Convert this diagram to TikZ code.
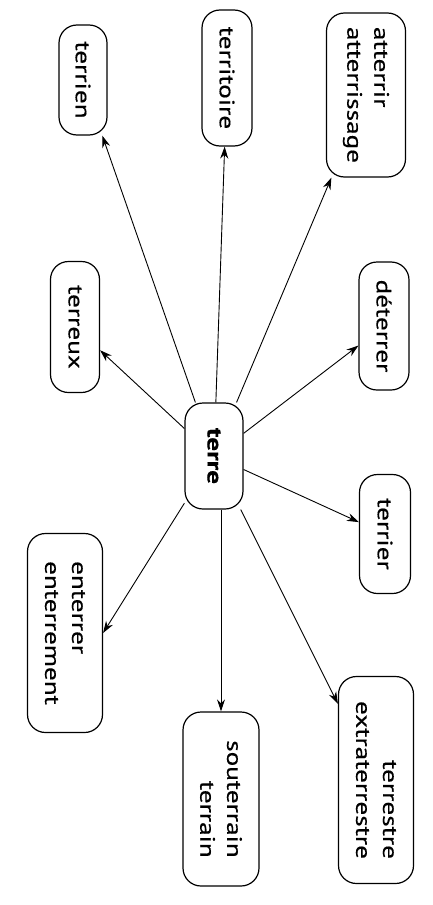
\documentclass[tikz,border=0pt]{standalone}
\usepackage{fontspec}
\setmainfont[FakeStretch=1.3,FakeBold=0.4]{PT Sans}
\usetikzlibrary{arrows.meta}

\tikzset{
  mot/.style={draw, line width=1.2bp, rounded corners=18bp, rotate=-90,
    font=\fontsize{21}{27}\selectfont, inner sep=0pt, minimum height=50bp},
  fleche/.style={-{Stealth[length=12bp,width=8bp]}, line width=0.9bp},
}

\begin{document}
\begin{tikzpicture}[x=1bp,y=1bp]
  \useasboundingbox (0,0) rectangle (432,-905);
  % mot central
  \node[mot, font=\fontsize{21}{27}\selectfont\bfseries, minimum width=106bp, minimum height=58bp] (terre) at (214,-456) {terre};
  % mots derives
  \node[mot, minimum width=110bp, minimum height=48bp] (terrien) at (83,-80) {terrien};
  \node[mot, minimum width=136bp] (territoire) at (227,-78) {territoire};
  \node[mot, align=left, minimum width=164bp, minimum height=79bp] (atterrir) at (366,-95) {atterrir\\atterrissage};
  \node[mot, minimum width=131bp, minimum height=49bp] (terreux) at (75,-327) {terreux};
  \node[mot, minimum width=128bp] (deterrer) at (384,-326) {déterrer};
  \node[mot, minimum width=119bp, minimum height=51bp] (terrier) at (385,-534) {terrier};
  \node[mot, align=left, minimum width=199bp, minimum height=75bp] (enterrer) at (65,-633) {enterrer\\enterrement};
  \node[mot, align=right, minimum width=174bp, minimum height=76bp] (souterrain) at (221,-799) {souterrain\\terrain};
  \node[mot, align=right, minimum width=207bp, minimum height=75bp] (terrestre) at (376,-780) {terrestre\\extraterrestre};
  % fleches
  \draw[fleche] (terre) -- (terrien);
  \draw[fleche] (terre) -- (territoire);
  \draw[fleche] (terre) -- (atterrir);
  \draw[fleche] (terre) -- (terreux);
  \draw[fleche] (terre) -- (deterrer);
  \draw[fleche] (terre) -- (terrier);
  \draw[fleche] (terre) -- (enterrer.north);
  \draw[fleche] (terre.east -| souterrain) -- (souterrain.west);
  \draw[fleche] (terre) -- (terrestre);
\end{tikzpicture}
\end{document}
